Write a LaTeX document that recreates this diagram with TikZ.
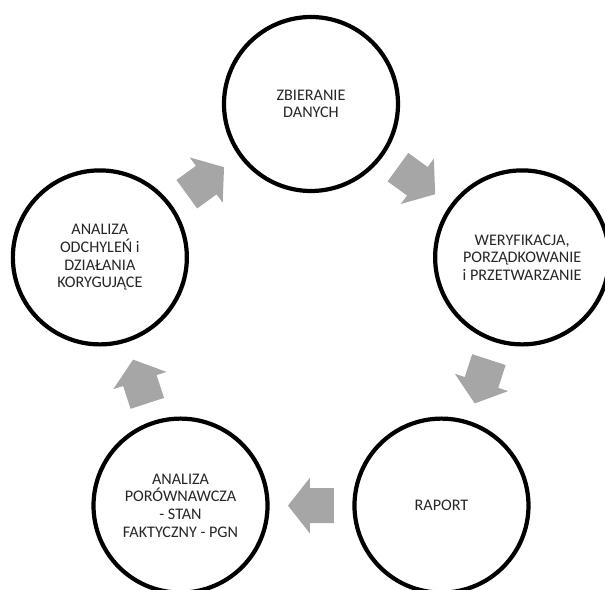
\documentclass[tikz,border=0pt]{standalone}
\usepackage{fontspec}
\setmainfont{Carlito}
\usepackage{tikz}
\usetikzlibrary{calc}
\definecolor{szary}{RGB}{166,166,166}
\definecolor{napis}{RGB}{38,38,38}
\tikzset{
	etap/.style={circle, draw=black, line width=3pt, fill=white, minimum size=4.35cm, inner sep=0pt, align=center, text=napis, font=\fontsize{11.5}{12.5}\selectfont}
}
\def\strzalka(#1)(#2)(#3){\fill[szary, shift={($(#1)!0.5!(#2)$)}, rotate=#3] (-0.575,-0.44) -- (0.025,-0.44) -- (0.025,-0.7) -- (0.575,0) -- (0.025,0.7) -- (0.025,0.44) -- (-0.575,0.44) -- cycle;}

\begin{document}
\begin{tikzpicture}
			%%%%% START %%%%%
			
			\clip (-7.775,-6.6) rectangle (7.35,8.15);
			
			\node[etap] (zbieranie) at (90:5.55) {ZBIERANIE\\DANYCH};
			\node[etap] (weryfikacja) at (18:5.55) {WERYFIKACJA,\\PORZĄDKOWANIE\\i PRZETWARZANIE};
			\node[etap] (raport) at (-54:5.55) {RAPORT};
			\node[etap] (porownanie) at (-126:5.55) {ANALIZA\\PORÓWNAWCZA\\- STAN\\FAKTYCZNY - PGN};
			\node[etap] (analiza) at (162:5.55) {ANALIZA\\ODCHYLEŃ i\\DZIAŁANIA\\KORYGUJĄCE};
			
			\strzalka(zbieranie)(weryfikacja)(-36)
			\strzalka(weryfikacja)(raport)(-108)
			\strzalka(raport)(porownanie)(180)
			\strzalka(porownanie)(analiza)(108)
			\strzalka(analiza)(zbieranie)(36)
			
			%%%%% END %%%%%
\end{tikzpicture}
\end{document}
